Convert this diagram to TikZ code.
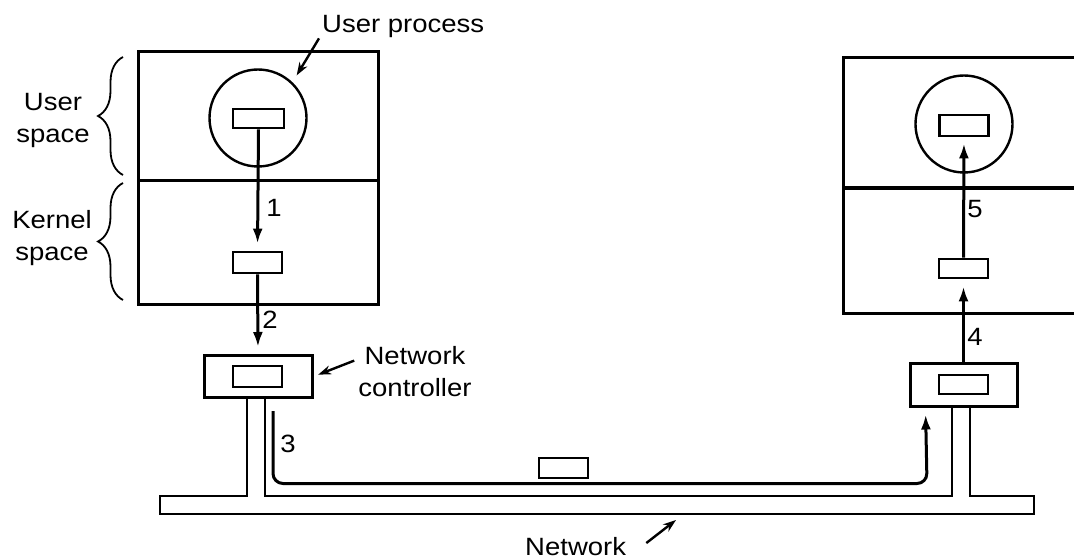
\documentclass[tikz,border=0pt]{standalone}
\usepackage{fontspec}
\setmainfont{Liberation Sans}
\usetikzlibrary{arrows.meta,decorations.pathreplacing}

\tikzset{
  layer/.style={draw, line width=3pt, minimum width=240pt, inner sep=0pt},
  proc/.style={draw, circle, line width=2.4pt, minimum size=97pt, inner sep=0pt},
  pkt/.style={draw, line width=2.8pt, minimum width=49pt, minimum height=20pt, inner sep=0pt},
  nic/.style={draw, line width=3pt, minimum width=108pt, minimum height=42pt, inner sep=0pt},
  flow/.style={line width=3pt, -{Latex[length=15pt,width=10pt]}, shorten >=7pt},
  tag/.style={font=\fontsize{25}{32}\selectfont, align=center, inner sep=0pt, xscale=1.1},
  hint/.style={line width=2.4pt, -{Stealth[length=13pt,width=9pt]}},
  wire/.style={line width=2.8pt},
  bracket/.style={line width=1.8pt, decorate, decoration={brace, amplitude=25pt}},
}

\begin{document}
\begin{tikzpicture}[x=1pt, y=-1pt]
  \useasboundingbox (0,0) rectangle (1074,559);

  % 1. sending machine
  \node[layer, minimum height=129pt] (luser) at (258,116.5) {};
  \node[layer, minimum height=123pt] (lkern) at (258,242.5) {};
  \node[proc] (lproc) at (258,118) {};
  \node[pkt, minimum width=51pt, minimum height=19pt] (lp1) at (258.5,118.5) {};
  \node[pkt, minimum height=21pt] (lp2) at (257.5,262.5) {};
  \node[nic] (lnic) at (258,376.5) {};
  \node[pkt, minimum height=21pt] (lp3) at (257.5,376.5) {};

  % 2. receiving machine (cut off at the right)
  \draw[line width=3pt] (1074,58) -| (843,313) -- (1074,313);
  \draw[line width=3pt] (843,188) -- (1074,188);
  \node[proc] (rproc) at (964,124) {};
  \node[pkt, minimum height=21pt] (rp1) at (964,125.5) {};
  \node[pkt, minimum height=19pt] (rp2) at (963.5,268.5) {};
  \node[nic, minimum width=107pt, minimum height=43pt] (rnic) at (963.5,384.5) {};
  \node[pkt, minimum height=19pt] (rp3) at (963.5,384.5) {};

  % 3. network cable
  \draw[wire, line join=miter] (247,397.5) |- (160,496) |- (1034,514) |- (970,496) -- (970,406);
  \draw[wire, line join=miter] (265,397.5) |- (952,496) -- (952,406);
  \node[pkt] (wpkt) at (563.5,468) {};

  % 4. message path
  \draw[flow] (lp1.south) -- (lp2.north);
  \draw[flow] (lp2.south) -- (lnic.north);
  \draw[flow, shorten <=12pt, rounded corners=10pt] ([xshift=15pt]lnic.south) |- (927,483.5) -- ([xshift=17pt]rnic.south west);
  \draw[flow] (rnic.north) -- (rp2.south);
  \draw[flow, shorten >=6pt] (rp2.north) -- (rp1.south);
  \node[tag] (n1) at (274,208) {1};
  \node[tag] (n2) at (270,320) {2};
  \node[tag] (n3) at (288,444) {3};
  \node[tag] (n4) at (975,337) {4};
  \node[tag] (n5) at (975,209) {5};

  % 5. labels
  \node[tag, anchor=base west] (uplab) at (322,33) {User process};
  \draw[hint, shorten >=8pt] ([xshift=-3pt]uplab.south west) -- (lproc.46);
  \node[tag] (nclab) at (415,372) {Network\\controller};
  \draw[hint, shorten >=5pt] ([shift={(-4pt,-14pt)}]nclab.north west) -- (lnic.east);
  \node[tag, anchor=base west] (netlab) at (525,555) {Network};
  \coordinate (netpt) at (676,520);
  \draw[hint] ([shift={(20pt,3pt)}]netlab.east) -- (netpt);

  \node[tag] (uslab) at (53,120) {User\\space};
  \node[tag] (kslab) at (52,238) {Kernel\\space};
  \draw[bracket] (123,175) -- (123,57);
  \draw[bracket] (123,300) -- (123,183);
\end{tikzpicture}
\end{document}
